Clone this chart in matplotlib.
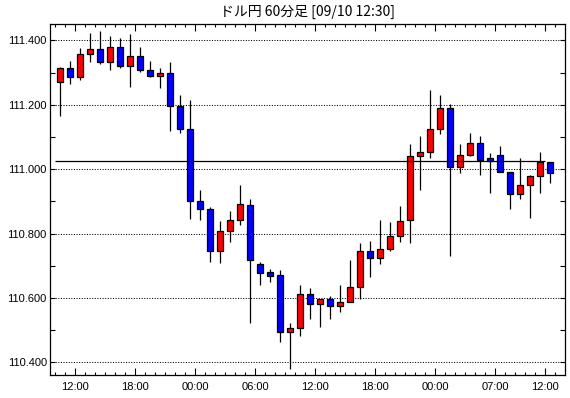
import matplotlib
matplotlib.use("Agg")
import matplotlib.pyplot as plt
import numpy as np

# hourly candles (USD/JPY, 60 min)
opens = [111.270, 111.313, 111.285, 111.357, 111.372, 111.332, 111.378, 111.319, 111.353, 111.307,
         111.291, 111.298, 111.195, 111.124, 110.900, 110.875, 110.745, 110.807, 110.841, 110.888,
         110.707, 110.680, 110.670, 110.493, 110.506, 110.614, 110.580, 110.596, 110.574, 110.589,
         110.633, 110.745, 110.723, 110.751, 110.794, 110.841, 111.040, 111.055, 111.124, 111.189,
         111.006, 111.043, 111.080, 111.034, 111.043, 110.990, 110.922, 110.950, 110.978, 111.021]
highs = [111.317, 111.336, 111.375, 111.424, 111.429, 111.413, 111.406, 111.420, 111.378, 111.335,
         111.313, 111.332, 111.229, 111.215, 110.937, 110.884, 110.838, 110.869, 110.950, 110.906,
         110.711, 110.689, 110.686, 110.521, 110.639, 110.630, 110.597, 110.605, 110.639, 110.717,
         110.770, 110.776, 110.841, 110.835, 110.885, 111.078, 111.103, 111.246, 111.230, 111.201,
         111.078, 111.114, 111.102, 111.050, 111.071, 110.990, 111.034, 110.981, 111.055, 111.021]
lows = [111.166, 111.265, 111.278, 111.334, 111.327, 111.309, 111.313, 111.256, 111.301, 111.285,
        111.251, 111.120, 111.114, 110.846, 110.843, 110.712, 110.709, 110.775, 110.827, 110.522,
        110.641, 110.650, 110.462, 110.381, 110.481, 110.534, 110.509, 110.534, 110.558, 110.588,
        110.596, 110.664, 110.707, 110.745, 110.773, 110.771, 110.934, 111.034, 111.108, 110.732,
        110.987, 111.040, 110.981, 110.925, 110.990, 110.875, 110.906, 110.847, 110.925, 110.956]
closes = [111.314, 111.285, 111.357, 111.372, 111.332, 111.378, 111.319, 111.353, 111.307, 111.291,
          111.298, 111.195, 111.124, 110.900, 110.875, 110.745, 110.807, 110.841, 110.891, 110.719,
          110.678, 110.669, 110.493, 110.506, 110.614, 110.580, 110.596, 110.574, 110.589, 110.633,
          110.745, 110.723, 110.751, 110.794, 110.838, 111.040, 111.055, 111.124, 111.189, 111.006,
          111.043, 111.080, 111.030, 111.027, 110.990, 110.922, 110.950, 110.978, 111.021, 110.987]

ref_price = 111.027
time_labels = ["12:00", "18:00", "00:00", "06:00", "12:00", "18:00", "00:00", "07:00", "12:00"]
label_bars = [2, 8, 14, 20, 26, 32, 38, 44, 49]   # candle index at each label
title = "ドル円 60分足 [09/10 12:30]"

o = np.array(opens)
h = np.array(highs)
l = np.array(lows)
c = np.array(closes)
x = np.arange(len(o))

fig = plt.figure(figsize=(5.7, 3.98), dpi=100)
ax = fig.add_axes([49.5 / 570, 23 / 398, (565 - 49.5) / 570, (375 - 24.3) / 398])

# dotted grid
for yv in np.arange(110.4, 111.41, 0.2):
    ax.axhline(yv, color="black", lw=0.75, ls=(0, (1, 1.5)), zorder=1)

up = c >= o
colors = np.where(up, "#ff0000", "#0000ff")
ax.vlines(x, l, h, color="black", lw=0.9, zorder=2)
ax.bar(x, np.abs(c - o), bottom=np.minimum(o, c), width=0.62, color=colors,
       edgecolor="black", linewidth=0.9, zorder=3)

ax.hlines(ref_price, -0.5, 48.5, color="black", lw=0.9, zorder=4)

ax.set_xlim(-1.05, 50.5)
ax.set_ylim(110.361, 111.450)

ax.set_yticks(np.arange(110.4, 111.41, 0.2))
ax.set_yticklabels([f"{v:.3f}" for v in np.arange(110.4, 111.41, 0.2)])
ax.set_yticks(np.arange(110.5, 111.41, 0.2), minor=True)
ax.set_xticks(np.array(label_bars) - 0.5)
ax.set_xticklabels(time_labels)
ax.set_xticks(np.arange(-0.5, 50, 1.0), minor=True)

ax.tick_params(axis="both", which="both", direction="in", color="black",
               top=True, right=True, width=0.8)
ax.tick_params(axis="x", which="major", length=5, pad=5)
ax.tick_params(axis="x", which="minor", length=2.5)
ax.tick_params(axis="y", which="both", length=3.5, pad=2)
for lab in ax.get_xticklabels() + ax.get_yticklabels():
    lab.set_fontfamily("Liberation Sans")
    lab.set_fontsize(8)

for sp in ax.spines.values():
    sp.set_linewidth(0.9)

fig.text((49.5 + 565) / 2 / 570, 1 - 12 / 398, title, ha="center", va="center",
         fontsize=10, family=["Noto Sans CJK JP", "DejaVu Sans"])

fig.savefig("out.png", dpi=100)
